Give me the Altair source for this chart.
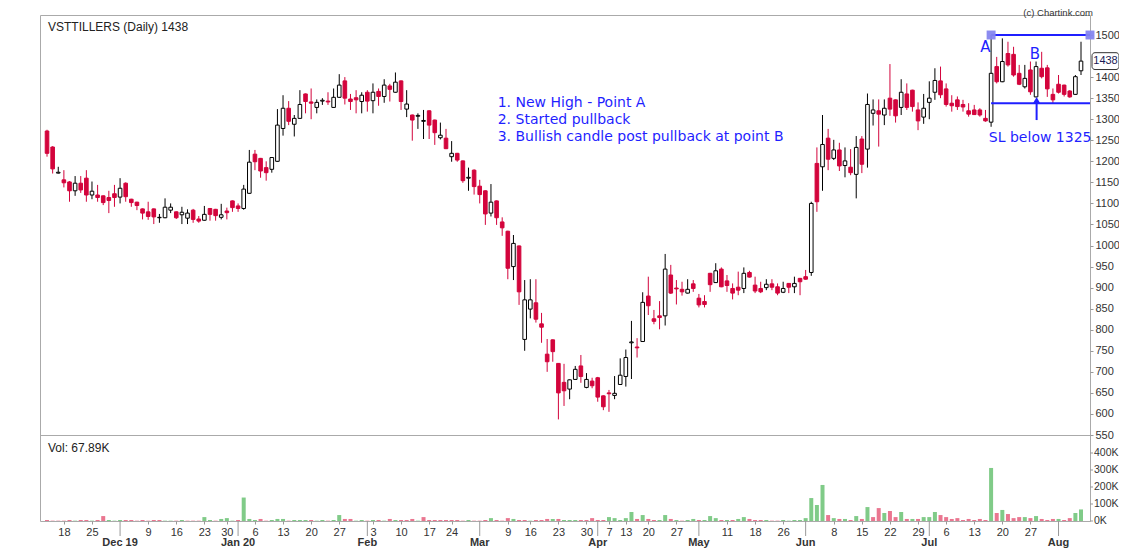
import altair as alt
import pandas as pd

# ---------------- data ----------------
opens = [1272,1234,1172,1156,1151,1130,1148,1160,1120,1120,
         1118,1114,1123,1115,1148,1110,1103,1087,1080,1087,
         1066,1066,1084,1080,1073,1065,1084,1063,1060,1088,
         1086,1067,1082,1106,1094,1088,1124,1217,1207,1185,
         1181,1200,1278,1326,1288,1302,1360,1341,1328,1343,
         1343,1328,1352,1391,1348,1351,1342,1364,1344,1366,
         1354,1379,1364,1391,1324,1310,1307,1295,1320,1298,
         1256,1255,1211,1219,1201,1160,1179,1141,1130,1077,
         1106,1056,1034,950,999,777,849,864,814,742,
         776,720,675,659,682,714,663,678,686,643,
         650,644,670,689,769,759,772,880,826,833,
         833,930,899,896,887,909,875,867,934,912,
         944,916,898,901,898,936,906,898,900,909,
         902,889,910,902,922,926,936,1195,1187,1255,
         1207,1227,1190,1186,1169,1253,1229,1314,1320,1310,
         1350,1346,1328,1360,1369,1322,1305,1340,1364,1391,
         1372,1338,1346,1335,1320,1322,1322,1302,1293,1425,
         1389,1456,1454,1409,1377,1417,1353,1421,1422,1359,
         1383,1381,1367,1359,1415]
highs = [1275,1236,1187,1179,1153,1165,1165,1179,1152,1144,
         1119,1130,1144,1160,1150,1111,1104,1088,1104,1088,
         1075,1112,1100,1081,1092,1086,1087,1070,1094,1089,
         1087,1099,1090,1107,1100,1144,1227,1227,1208,1200,
         1210,1324,1357,1343,1310,1369,1361,1373,1347,1350,
         1364,1373,1407,1400,1360,1369,1364,1369,1385,1373,
         1395,1384,1411,1392,1369,1311,1314,1322,1321,1299,
         1292,1277,1248,1220,1202,1185,1181,1156,1131,1146,
         1107,1067,1035,1025,1000,918,920,920,840,778,
         777,721,719,682,714,740,697,686,688,644,
         657,690,732,753,821,780,889,926,847,868,
         980,954,918,914,920,918,885,882,935,958,
         948,930,910,938,948,940,926,914,920,920,
         910,914,911,926,923,942,1104,1233,1310,1277,
         1251,1244,1233,1229,1260,1260,1361,1347,1347,1347,
         1431,1347,1395,1385,1370,1340,1360,1390,1421,1425,
         1385,1357,1354,1346,1338,1334,1326,1322,1500,1448,
         1492,1484,1472,1429,1429,1437,1437,1460,1429,1373,
         1405,1382,1369,1405,1484]
lows = [1211,1171,1171,1138,1104,1118,1125,1104,1110,1104,
        1096,1077,1092,1100,1104,1092,1084,1062,1061,1051,
        1054,1065,1077,1063,1051,1051,1054,1054,1059,1059,
        1059,1062,1062,1080,1080,1085,1123,1179,1161,1154,
        1173,1199,1261,1286,1259,1301,1314,1300,1314,1334,
        1334,1327,1351,1335,1322,1314,1314,1318,1314,1332,
        1339,1342,1363,1322,1305,1249,1277,1253,1253,1239,
        1252,1229,1199,1199,1149,1130,1121,1100,1049,1069,
        1049,1023,920,918,859,750,827,817,769,700,
        724,587,619,635,681,674,661,661,629,609,
        605,635,669,665,683,734,771,835,813,801,
        810,885,860,881,886,890,853,853,890,911,
        901,890,872,882,887,924,887,887,894,894,
        882,887,887,887,882,919,928,1080,1130,1179,
        1203,1177,1162,1167,1112,1172,1185,1285,1235,1286,
        1308,1292,1310,1322,1318,1274,1289,1300,1346,1350,
        1330,1318,1322,1318,1306,1310,1306,1294,1282,1385,
        1388,1425,1401,1381,1373,1358,1352,1397,1353,1338,
        1361,1354,1351,1358,1405]
closes = [1219,1182,1174,1149,1130,1148,1132,1120,1129,1114,
          1102,1107,1114,1136,1116,1102,1095,1077,1069,1068,
          1067,1091,1091,1066,1079,1077,1062,1058,1074,1074,
          1071,1073,1078,1090,1088,1134,1198,1199,1177,1173,
          1209,1286,1326,1295,1302,1335,1342,1338,1340,1345,
          1341,1352,1381,1350,1342,1346,1357,1343,1364,1354,
          1381,1371,1388,1342,1336,1298,1309,1297,1286,1268,
          1262,1230,1219,1203,1154,1162,1140,1121,1075,1103,
          1066,1042,946,1005,890,871,871,825,806,724,
          748,650,655,681,706,689,682,667,640,617,
          648,649,692,734,771,757,865,857,820,829,
          944,887,897,890,896,898,859,860,907,940,
          902,905,887,894,934,925,892,890,908,901,
          887,898,901,910,914,920,1100,1104,1240,1205,
          1227,1189,1201,1173,1233,1193,1335,1322,1312,1326,
          1324,1308,1364,1328,1330,1296,1326,1350,1392,1358,
          1335,1332,1330,1329,1312,1311,1310,1296,1409,1389,
          1437,1429,1405,1383,1397,1365,1425,1401,1372,1346,
          1364,1359,1353,1401,1438]
volumes_k = [6,2,2,2,6,2,6,6,2,6,
             29,6,2,6,6,6,2,6,2,6,
             6,2,2,2,6,2,2,2,23,6,
             2,12,17,2,6,138,12,6,12,2,
             6,12,12,2,6,6,6,6,2,6,
             2,6,35,12,12,2,6,2,6,6,
             2,12,6,6,6,12,2,23,6,6,
             6,6,6,6,2,6,2,2,6,17,
             6,2,17,12,6,6,2,6,6,12,
             12,12,6,6,6,6,6,17,6,6,
             23,17,6,17,53,12,35,12,6,6,
             35,12,6,2,6,12,6,6,29,17,
             6,6,6,12,23,12,6,6,6,2,
             2,6,2,6,6,17,135,94,212,35,
             17,12,12,6,29,12,82,23,76,47,
             59,23,53,12,12,12,23,23,53,35,
             23,12,17,6,12,6,12,6,312,47,
             65,41,17,23,23,17,29,12,6,12,
             12,6,17,47,68]
last_volume_label = "67.89K"

# x-axis labels (trading-day index -> label)
day_tick_idx = [3, 8, 18, 23, 28, 32, 37, 42, 47, 52, 58, 63, 68, 72, 82, 86, 91, 96,
                100, 103, 107, 112, 121, 126, 131, 140, 145, 150, 155, 160, 165, 170, 175]
day_tick_lbl = ['18', '25', '9', '16', '23', '30', '6', '13', '20', '27', '3', '10', '17', '24',
                '9', '16', '23', '30', '7', '13', '20', '27', '11', '18', '26', '8', '15', '22',
                '29', '6', '13', '20', '27']
month_idx = [13, 34, 57, 77, 98, 116, 135, 157, 180]
month_lbl = ['Dec 19', 'Jan 20', 'Feb', 'Mar', 'Apr', 'May', 'Jun', 'Jul', 'Aug']

price_ticks = [550, 600, 650, 700, 750, 800, 850, 900, 950, 1000, 1050, 1100, 1150,
               1200, 1250, 1300, 1350, 1400, 1500]
vol_ticks = [0, 100, 200, 300, 400]

# annotations
note_lines = ["1. New High - Point A", "2. Started pullback",
              "3. Bullish candle post pullback at point B"]
note_prices = [1338, 1298, 1258]
note_x = 80.2
level_prices = [1500, 1338]
level_start = 168
level_end = 185.6
letters = ['A', 'B']
letter_x = [167.0, 175.8]
letter_p = [1472, 1454]
arrow_x = 176.1
arrow_from = 1298
arrow_to = 1345
sl_text = "SL below 1325"
sl_x = 167.6
sl_p = 1255
last_price = 1438

# ---------------- styling ----------------
RED = "#d3043c"
BLUE = "#1f1fff"
GREEN_V = "#80cb88"
PINK_V = "#ea7690"
FONT = "Liberation Sans"
W, H = 1050, 506

n = len(opens)
df = pd.DataFrame({"i": list(range(n)), "open": opens, "high": highs, "low": lows,
                   "close": closes, "vol": volumes_k})
up = [c >= o for o, c in zip(opens, closes)]
df["line_col"] = ["#000000" if u else RED for u in up]
df["fill_col"] = ["#ffffff" if u else RED for u in up]
prev = [opens[0]] + closes[:-1]
df["vol_col"] = [GREEN_V if c >= p else PINK_V for p, c in zip(prev, closes)]

xs = alt.Scale(domain=[-1.25, 185.6], nice=False, zero=False, padding=0)
label_map = "{" + ",".join(f"'{i}':'{l}'" for i, l in zip(day_tick_idx, day_tick_lbl)) + "}"
x_axis = alt.Axis(values=day_tick_idx, labelExpr=label_map + "[datum.value]", tickSize=3,
                  labelPadding=2, domain=False, grid=False, title=None, labelFontSize=11,
                  labelFlush=False, labelOverlap=False)


def X(field):
    return alt.X(field, scale=xs, axis=x_axis, title=None)


ys_p = alt.Scale(domain=[550, 1547.5], range=[420, 0], nice=False, zero=False, padding=0)
y_axis_p = alt.Axis(orient="right", values=price_ticks, format="d", tickSize=3,
                    labelPadding=2, domain=False, grid=False, title=None, labelFontSize=11)


def YP(field):
    return alt.Y(field, scale=ys_p, axis=y_axis_p, title=None)


ys_v = alt.Scale(domain=[0, 500], range=[506, 421], nice=False, zero=True, padding=0)

wicks = alt.Chart(df).mark_rule(strokeWidth=1).encode(
    x=X("i:Q"), y=YP("low:Q"), y2="high:Q",
    color=alt.Color("line_col:N", scale=None))
bodies = alt.Chart(df).mark_bar(size=3.6, strokeWidth=1).encode(
    x=X("i:Q"), y=YP("open:Q"), y2="close:Q",
    fill=alt.Fill("fill_col:N", scale=None),
    stroke=alt.Stroke("line_col:N", scale=None))

notes_df = pd.DataFrame({"x": [note_x] * len(note_lines), "p": note_prices, "t": note_lines})
notes = alt.Chart(notes_df).mark_text(align="left", baseline="middle", color=BLUE,
                                      fontSize=14, font="DejaVu Sans").encode(
    x=X("x:Q"), y=YP("p:Q"), text="t:N")

lv_df = pd.DataFrame({"x": [level_start] * 2, "x2": [level_end] * 2, "p": level_prices})
levels = alt.Chart(lv_df).mark_rule(color=BLUE, strokeWidth=2).encode(
    x=X("x:Q"), x2="x2:Q", y=YP("p:Q"))
sq_df = pd.DataFrame({"x": [level_start, level_end], "p": [level_prices[0]] * 2})
squares = alt.Chart(sq_df).mark_square(size=80, color="#8585ef", opacity=0.95).encode(
    x=X("x:Q"), y=YP("p:Q"))

let_df = pd.DataFrame({"x": letter_x, "p": letter_p, "t": letters})
letter_marks = alt.Chart(let_df).mark_text(color=BLUE, fontSize=15, font="DejaVu Sans",
                                           baseline="middle").encode(
    x=X("x:Q"), y=YP("p:Q"), text="t:N")

arr_df = pd.DataFrame({"x": [arrow_x], "p1": [arrow_from], "p2": [arrow_to - 6]})
arrow_line = alt.Chart(arr_df).mark_rule(color=BLUE, strokeWidth=2).encode(
    x=X("x:Q"), y=YP("p1:Q"), y2="p2:Q")
head_df = pd.DataFrame({"x": [arrow_x], "p": [arrow_to]})
arrow_head = alt.Chart(head_df).mark_point(shape="triangle-up", filled=True, color=BLUE,
                                           size=55, opacity=1).encode(
    x=X("x:Q"), y=YP("p:Q"))

sl_df = pd.DataFrame({"x": [sl_x], "p": [sl_p], "t": [sl_text]})
sl_mark = alt.Chart(sl_df).mark_text(align="left", baseline="middle", color=BLUE,
                                     fontSize=14, font="DejaVu Sans").encode(
    x=X("x:Q"), y=YP("p:Q"), text="t:N")

tag_df = pd.DataFrame({"p": [last_price], "p1": [last_price + 20], "p2": [last_price - 20],
                       "t": [str(last_price)]})
tag_box = alt.Chart(tag_df).mark_rect(cornerRadius=3, fill="white", stroke="#333333",
                                      strokeWidth=1).encode(
    x=alt.value(W + 2), x2=alt.value(W + 29), y=YP("p1:Q"), y2="p2:Q")
tag_text = alt.Chart(tag_df).mark_text(align="center", baseline="middle", fontSize=11,
                                       font=FONT, color="#1a1a55").encode(
    x=alt.value(W + 15.5), y=YP("p:Q"), text="t:N")

title_df = pd.DataFrame({"t": [f"VSTTILLERS (Daily) {last_price}"]})
title_mark = alt.Chart(title_df).mark_text(align="left", baseline="middle", fontSize=12,
                                           font=FONT, color="#222222").encode(
    x=alt.value(8), y=alt.value(12), text="t:N")
copy_df = pd.DataFrame({"t": ["(c) Chartink.com"]})
copy_mark = alt.Chart(copy_df).mark_text(align="right", baseline="alphabetic", fontSize=9.5,
                                         font=FONT, color="#333333").encode(
    x=alt.value(W + 3), y=alt.value(0.5), text="t:N")

price_layer = alt.layer(wicks, bodies, levels, squares, notes, letter_marks, arrow_line,
                        arrow_head, sl_mark, tag_box, tag_text, title_mark, copy_mark)

# ---------------- volume panel ----------------
vbars = alt.Chart(df).mark_bar(size=4, orient="vertical").encode(
    x=X("i:Q"), y=alt.Y("vol:Q", scale=ys_v, axis=None, title=None),
    color=alt.Color("vol_col:N", scale=None))
vt_df = pd.DataFrame({"v": vol_ticks, "t": [f"{v}K" for v in vol_ticks]})
vtick_lbl = alt.Chart(vt_df).mark_text(align="left", baseline="middle", fontSize=10.5,
                                       font=FONT, color="#333333").encode(
    x=alt.value(W + 4), y=alt.Y("v:Q", scale=ys_v, axis=None), text="t:N")
vtick_mark = alt.Chart(vt_df).mark_rule(color="#999999").encode(
    x=alt.value(W), x2=alt.value(W + 3), y=alt.Y("v:Q", scale=ys_v, axis=None))
vol_lbl_df = pd.DataFrame({"t": [f"Vol: {last_volume_label}"]})
vol_lbl = alt.Chart(vol_lbl_df).mark_text(align="left", baseline="middle", fontSize=12,
                                          font=FONT, color="#222222").encode(
    x=alt.value(8), y=alt.value(433), text="t:N")
sep = alt.Chart(vol_lbl_df).mark_rule(color="#aaaaaa", strokeWidth=1).encode(
    x=alt.value(0), x2=alt.value(W), y=alt.value(420.5))
m_df = pd.DataFrame({"i": month_idx, "t": month_lbl})
m_sep = alt.Chart(m_df).mark_rule(color="#999999").encode(
    x=X("i:Q"), y=alt.value(H), y2=alt.value(H + 15))
m_lbl = alt.Chart(m_df).mark_text(baseline="middle", fontSize=11, fontWeight="bold",
                                  font=FONT, color="#333333").encode(
    x=X("i:Q"), y=alt.value(H + 22), text="t:N")

vol_layer = alt.layer(vbars, vtick_mark, vtick_lbl, vol_lbl, sep, m_sep, m_lbl)

chart = alt.layer(price_layer, vol_layer).resolve_scale(y="independent").properties(
    width=W, height=H,
    autosize=alt.AutoSizeParams(type="none"),
    padding={"left": 32, "top": 7, "right": 29, "bottom": 29},
).configure_view(stroke="#aaaaaa", strokeWidth=1).configure_axis(
    labelFont=FONT, labelColor="#333333", tickColor="#999999")

chart.save("out.html", embed_options={"renderer": "svg", "actions": False})
